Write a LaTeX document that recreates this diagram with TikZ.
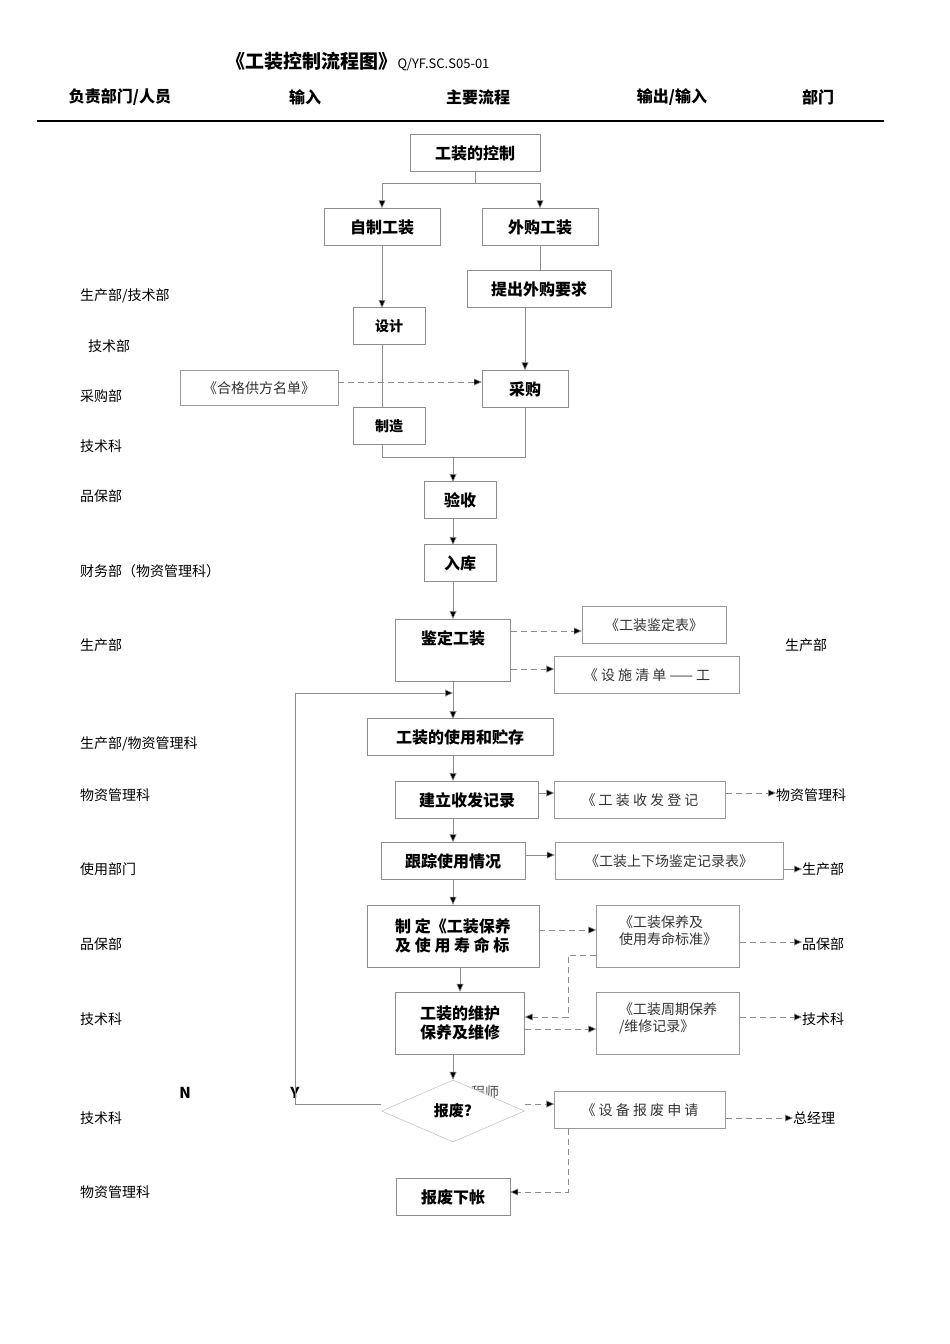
\documentclass[tikz,border=0pt]{standalone}
\usepackage{fontspec}
\setmainfont{Noto Sans CJK SC}
\usetikzlibrary{shapes.geometric,arrows.meta}
\begin{document}
\begin{tikzpicture}[x=1pt,y=-1pt,
 mbox/.style={draw=black!45,minimum width=#1,minimum height=37pt,inner sep=1pt,font=\fontsize{16}{19}\selectfont\bfseries},
 dbox/.style={draw=black!40,minimum width=#1,minimum height=37pt,inner sep=1pt,font=\fontsize{14}{17}\selectfont,text=black!80},
 lab/.style={anchor=west,font=\fontsize{14}{17}\selectfont,inner sep=0pt},
 ln/.style={draw=black!45,line width=0.6pt},
 ar/.style={ln,-{Triangle[length=8pt,width=7pt,fill=black]}},
 da/.style={ar,dashed,dash pattern=on 6pt off 4pt},
 dl/.style={ln,dashed,dash pattern=on 6pt off 4pt}]
\useasboundingbox (0,0) rectangle (950,1344);
% header
\node (title) at (358,62) {\fontsize{19}{22}\selectfont\bfseries 《工装控制流程图》\fontsize{13}{15}\selectfont\normalfont Q/YF.SC.S05-01};
\foreach \t/\x [count=\i] in {{负责部门/人员}/120,输入/305,主要流程/478,{输出/输入}/672,部门/818}
  \node[font=\fontsize{16}{19}\selectfont\bfseries] (h\i) at (\x,97) {\t};
\coordinate (la) at (37,121); \coordinate (lb) at (884,121);
\draw[line width=1.2pt] (la) -- (lb);
% boxes
\node[mbox=130pt] (ctl) at (475,153) {工装的控制};
\node[mbox=116pt] (zz) at (382,227) {自制工装};
\node[mbox=116pt] (wg) at (540,227) {外购工装};
\node[mbox=144pt] (tc) at (539,289) {提出外购要求};
\node[mbox=72pt,font=\fontsize{14}{17}\selectfont\bfseries] (sj) at (389,326) {设计};
\node[dbox=158pt,minimum height=35pt] (hg) at (259,388) {《合格供方名单》};
\node[mbox=86pt] (cg) at (525,389) {采购};
\node[mbox=72pt,font=\fontsize{14}{17}\selectfont\bfseries] (zzao) at (389,426) {制造};
\node[mbox=72pt] (ys) at (460,500) {验收};
\node[mbox=72pt] (rk) at (460,563) {入库};
\node[mbox=115pt,minimum height=62pt,text depth=25pt] (jd) at (453,650) {鉴定工装};
\node[dbox=144pt] (jdb) at (654,625) {《工装鉴定表》};
\node[dbox=185pt] (ss) at (647,675) {《 设 施 清 单 —— 工};
\node[mbox=186pt] (sy) at (460,737) {工装的使用和贮存};
\node[mbox=143pt] (jl) at (467,800) {建立收发记录};
\node[dbox=171pt] (sf) at (640,800) {《 工 装 收 发 登 记};
\node[mbox=144pt] (gz) at (453,861) {跟踪使用情况};
\node[dbox=228pt] (sx) at (669,861) {《工装上下场鉴定记录表》};
\node[mbox=172pt,minimum height=62pt,align=left] (zd) at (453,936) {制 定《工装保养\\及 使 用 寿 命 标};
\node[dbox=143pt,minimum height=62pt,align=left,text depth=12pt] (bz) at (668,936) {《工装保养及\\使用寿命标准》};
\node[mbox=129pt,minimum height=62pt,align=left] (wh) at (460,1023) {工装的维护\\保养及维修};
\node[dbox=143pt,minimum height=62pt,align=left,text depth=12pt] (zq) at (668,1023) {《工装周期保养\\/维修记录》};
\node[font=\fontsize{14}{17}\selectfont,text=black!70] (gcs) at (478,1092) {工程师};
\node[draw=black!30,fill=white,diamond,aspect=2.3,minimum width=143pt,minimum height=62pt,inner sep=0pt,font=\fontsize{15}{18}\selectfont\bfseries] (bf) at (453,1111) {报废?};
\node[dbox=171pt] (sq) at (640,1110) {《 设 备 报 废 申 请};
\node[mbox=114pt] (xz) at (453,1197) {报废下帐};
% left labels
\foreach \t/\x/\y [count=\i] in {{生产部/技术部}/80/296,技术部/88/346,采购部/80/396,技术科/80/446,品保部/80/496,财务部（物资管理科）/80/571,生产部/80/645,{生产部/物资管理科}/80/744,物资管理科/80/795,使用部门/80/869,品保部/80/944,技术科/80/1019,技术科/80/1118,物资管理科/80/1192}
  \node[lab] (l\i) at (\x,\y) {\t};
\node[lab] (r1) at (785,645) {生产部};
\node[lab] (r2) at (776,795) {物资管理科};
\node[lab] (r3) at (802,869) {生产部};
\node[lab] (r4) at (802,944) {品保部};
\node[lab] (r5) at (802,1019) {技术科};
\node[lab] (r6) at (793,1118) {总经理};
\node[font=\fontsize{15}{18}\selectfont\bfseries\rmfamily] (nn) at (185,1093) {N};
\node[font=\fontsize{15}{18}\selectfont\bfseries\rmfamily] (yy) at (295,1093) {Y};
% connectors
\coordinate (s1) at (475,183); \coordinate (s2) at (382,183); \coordinate (s3) at (540,183);
\draw[ln] (ctl.south) -- (s1) -- (s2); \draw[ln] (s1) -- (s3);
\draw[ar] (s2) -- (zz.north); \draw[ar] (s3) -- (wg.north);
\draw[ar] (zz.south) -- (382,308);
\draw[ln] (wg.south) -- (540,270);
\draw[ar] (525,308) -- (cg.north);
\draw[ln] (382,345) -- (382,407);
\draw[da] (hg.east |- 0,382) -- (cg.west |- 0,382);
\coordinate (m1) at (382,457); \coordinate (m2) at (525,457); \coordinate (m3) at (453,457);
\draw[ln] (382,445) -- (m1) -- (m2) -- (cg.south);
\draw[ar] (m3) -- (453,482);
\draw[ar] (453,519) -- (453,545);
\draw[ar] (453,582) -- (453,619);
\draw[ar] (453,681) -- (453,719);
\coordinate (p1) at (295,1104); \coordinate (p2) at (295,693); \coordinate (p3) at (453,693);
\draw[ar] (bf.west |- 0,1104) -- (p1) -- (p2) -- (p3);
\draw[da] (jd.east |- 0,631) -- (jdb.west |- 0,631);
\draw[da] (jd.east |- 0,669) -- (ss.west |- 0,669);
\draw[ar] (453,756) -- (453,781);
\draw[ar] (jl.east |- 0,793) -- (sf.west |- 0,793);
\draw[da] (sf.east |- 0,793) -- (r2.west |- 0,793);
\draw[ar] (453,818) -- (gz.north);
\draw[ar] (gz.east |- 0,855) -- (sx.west |- 0,855);
\draw[ar] (sx.east |- 0,869) -- (r3.west);
\draw[ar] (gz.south) -- (zd.north);
\draw[da] (zd.east |- 0,930) -- (bz.west |- 0,930);
\draw[da] (bz.east |- 0,942) -- (r4.west |- 0,942);
\coordinate (q1) at (568,955); \coordinate (q2) at (568,1017);
\draw[da] (bz.west |- 0,955) -- (q1) -- (q2) -- (wh.east |- 0,1017);
\draw[ar] (460,967) -- (wh.north);
\draw[da] (wh.east |- 0,1029) -- (zq.west |- 0,1029);
\draw[da] (zq.east |- 0,1017) -- (r5.west |- 0,1017);
\draw[ar] (453,1054) -- (bf.north);
\draw[da] (bf.east |- 0,1104) -- (sq.west |- 0,1104);
\draw[da] (sq.east |- 0,1118) -- (r6.west);
\coordinate (t1) at (568,1192);
\draw[da] (568,1129) -- (t1) -- (xz.east |- 0,1192);
\end{tikzpicture}
\end{document}
